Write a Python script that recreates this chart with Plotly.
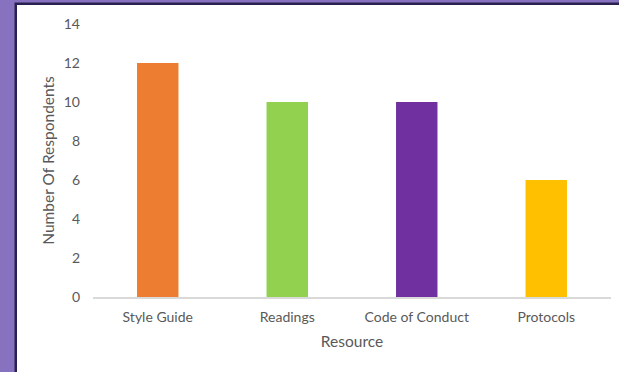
import plotly.graph_objects as go

categories = ["Style Guide", "Readings", "Code of Conduct", "Protocols"]
values = [12, 10, 10, 6]
colors = ["#ED7D31", "#92D050", "#7030A0", "#FFC000"]
y_ticks = [0, 2, 4, 6, 8, 10, 12, 14]

W, H = 619, 372
L, R, T, B = 93, 8, 24, 75
pw, ph = W - L - R, H - T - B

def px_x(p):
    return (p - L) / pw

def px_y(p):
    return (H - B - p) / ph

fig = go.Figure(go.Bar(x=categories, y=values, marker=dict(color=colors, line=dict(width=0)),
                       width=0.32))

shapes = [
    dict(type="rect", xref="paper", yref="paper", x0=px_x(14.5), x1=px_x(W + 2),
         y0=px_y(H + 2), y1=px_y(2.5), fillcolor="#2b2150", line=dict(width=0), layer="below"),
    dict(type="rect", xref="paper", yref="paper", x0=px_x(17), x1=px_x(W + 2),
         y0=px_y(H + 2), y1=px_y(5), fillcolor="white", line=dict(width=0), layer="below"),
]

fig.update_layout(
    width=W, height=H,
    margin=dict(l=L, r=R, t=T, b=B),
    paper_bgcolor="#8672bf",
    plot_bgcolor="rgba(0,0,0,0)",
    shapes=shapes,
    showlegend=False,
    font=dict(family="Lato", size=14, color="#595959"),
    xaxis=dict(
        title=dict(text="Resource", font=dict(size=15.5, color="#595959"), standoff=13),
        showgrid=False, showline=True, linecolor="#d9d9d9", linewidth=1.5,
        ticks="", tickfont=dict(size=14, color="#595959"), zeroline=False,
        ticklabelstandoff=6,
    ),
    yaxis=dict(
        title=dict(text="Number Of Respondents", font=dict(size=15.5, color="#595959"), standoff=5),
        range=[0, 14], tickvals=y_ticks, showgrid=False, zeroline=False,
        showline=False, ticks="", ticklabelstandoff=12,
        tickfont=dict(size=14, color="#595959"),
    ),
)

fig.write_html("out.html")
